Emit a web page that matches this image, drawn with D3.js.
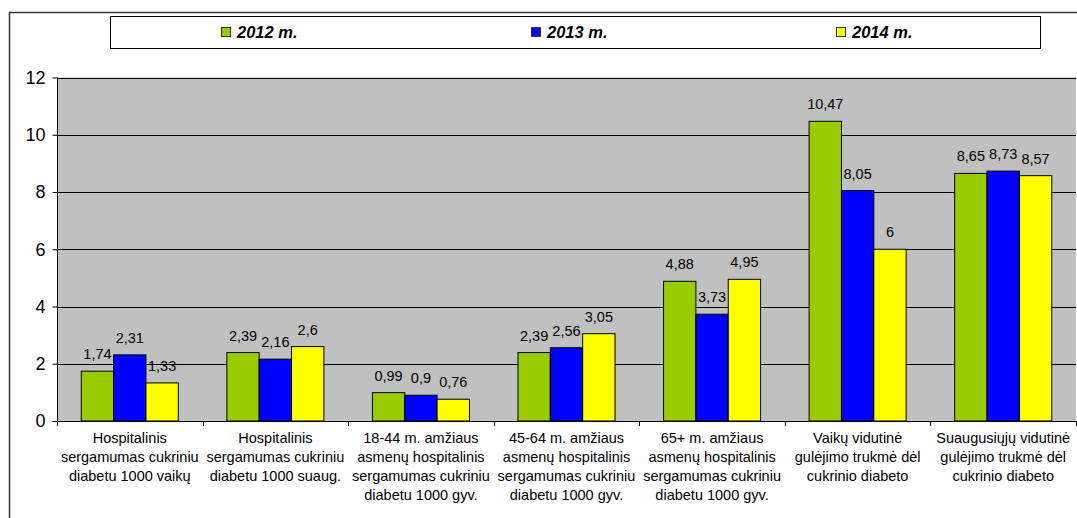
<!DOCTYPE html>
<html>
<head>
<meta charset="utf-8">
<script src="https://cdn.jsdelivr.net/npm/d3@7"></script>
<style>
  html, body { margin: 0; padding: 0; background: #fff; }
  svg { display: block; font-family: "Liberation Sans", Arial, sans-serif; }
</style>
</head>
<body>
<svg id="chart" width="1077" height="518"></svg>
<script>
// Category labels, one array of lines per group
const categories = [
  ["Hospitalinis", "sergamumas cukriniu", "diabetu 1000 vaikų"],
  ["Hospitalinis", "sergamumas cukriniu", "diabetu 1000 suaug."],
  ["18-44 m. amžiaus", "asmenų hospitalinis", "sergamumas cukriniu", "diabetu 1000 gyv."],
  ["45-64 m. amžiaus", "asmenų hospitalinis", "sergamumas cukriniu", "diabetu 1000 gyv."],
  ["65+ m. amžiaus", "asmenų hospitalinis", "sergamumas cukriniu", "diabetu 1000 gyv."],
  ["Vaikų vidutinė", "gulėjimo trukmė dėl", "cukrinio diabeto"],
  ["Suaugusiųjų vidutinė", "gulėjimo trukmė dėl", "cukrinio diabeto"]
];
const seriesNames = ["2012 m.", "2013 m.", "2014 m."];
const values2012 = [1.74, 2.39, 0.99, 2.39, 4.88, 10.47, 8.65];
const values2013 = [2.31, 2.16, 0.90, 2.56, 3.73, 8.05, 8.73];
const values2014 = [1.33, 2.60, 0.76, 3.05, 4.95, 6.00, 8.57];
const yTicks = [0, 2, 4, 6, 8, 10, 12];
const seriesColors = ["#99CC00", "#0000FF", "#FFFF00"];

const series = [values2012, values2013, values2014];

const svg = d3.select("#chart");
const plot = { left: 57, right: 1076, top: 77.5, bottom: 421 };

// Outer frame (top and left edges)
svg.append("path")
  .attr("d", `M9.5,518 V12.5 H1077`)
  .attr("fill", "none")
  .attr("stroke", "#333")
  .attr("stroke-width", 1.5);

// Legend
const legend = svg.append("g");
legend.append("rect")
  .attr("x", 110.5).attr("y", 16.5)
  .attr("width", 930).attr("height", 32)
  .attr("fill", "#fff")
  .attr("stroke", "#000");
const legendX = [221, 531, 836];
seriesNames.forEach((name, i) => {
  legend.append("rect")
    .attr("x", legendX[i] + 0.5).attr("y", 27.5)
    .attr("width", 9).attr("height", 9)
    .attr("fill", seriesColors[i])
    .attr("stroke", "#333");
  legend.append("text")
    .attr("x", legendX[i] + 16).attr("y", 38)
    .attr("font-size", 16.5).attr("font-weight", "bold").attr("font-style", "italic")
    .attr("fill", "#000")
    .text(name);
});

// Scales
const x = d3.scaleBand()
  .domain(d3.range(categories.length))
  .range([plot.left, plot.right])
  .paddingInner(0).paddingOuter(0);
const cw = x.bandwidth();
const gap = cw * 0.75 / 4.5;
const xs = d3.scaleBand()
  .domain(d3.range(series.length))
  .range([gap, cw - gap])
  .padding(0);
const y = d3.scaleLinear().domain([0, 12]).range([plot.bottom, plot.top]);

// Plot background
svg.append("rect")
  .attr("x", plot.left).attr("y", plot.top)
  .attr("width", plot.right - plot.left).attr("height", plot.bottom - plot.top)
  .attr("fill", "#C0C0C0");

// Gridlines
svg.append("g")
  .selectAll("line")
  .data(yTicks.filter(t => t > 0))
  .join("line")
  .attr("x1", plot.left).attr("x2", plot.right)
  .attr("y1", d => Math.round(y(d)) + 0.5).attr("y2", d => Math.round(y(d)) + 0.5)
  .attr("stroke", "#000").attr("stroke-width", 1);

// Bars
const groups = svg.append("g")
  .selectAll("g")
  .data(categories.map((c, i) => i))
  .join("g")
  .attr("transform", i => `translate(${x(i)},0)`);

groups.selectAll("rect")
  .data(i => series.map((s, k) => ({ k, v: s[i] })))
  .join("rect")
  .attr("x", d => xs(d.k))
  .attr("width", xs.bandwidth())
  .attr("y", d => y(d.v))
  .attr("height", d => y(0) - y(d.v))
  .attr("fill", d => seriesColors[d.k])
  .attr("stroke", "#000")
  .attr("stroke-width", 1);

// Value labels
const fmt = v => String(+v.toFixed(2)).replace(".", ",");
groups.selectAll("text")
  .data(i => series.map((s, k) => ({ k, v: s[i] })))
  .join("text")
  .attr("x", d => xs(d.k) + xs.bandwidth() / 2)
  .attr("y", d => y(d.v) - 12)
  .attr("text-anchor", "middle")
  .attr("font-size", 14.5)
  .attr("fill", "#000")
  .text(d => fmt(d.v));

// Y axis
const yAxis = svg.append("g")
  .attr("transform", `translate(${plot.left + 0.5},0)`)
  .call(d3.axisLeft(y).tickValues(yTicks).tickSize(5).tickPadding(7).tickFormat(d3.format("d")));
yAxis.select(".domain").attr("stroke", "#000").attr("d", `M-5,${plot.bottom + 0.5}H0V${plot.top}`);
yAxis.selectAll("line").attr("stroke", "#000");
yAxis.selectAll("text").attr("font-size", 18).attr("fill", "#000")
  .attr("font-family", "Liberation Sans, Arial, sans-serif");

// X axis baseline and category tick marks
const xAxis = svg.append("g");
xAxis.append("line")
  .attr("x1", plot.left).attr("x2", plot.right)
  .attr("y1", plot.bottom + 0.5).attr("y2", plot.bottom + 0.5)
  .attr("stroke", "#000");
xAxis.selectAll("line.tick")
  .data(d3.range(categories.length + 1))
  .join("line")
  .attr("class", "tick")
  .attr("x1", i => Math.round(plot.left + i * cw) + 0.5)
  .attr("x2", i => Math.round(plot.left + i * cw) + 0.5)
  .attr("y1", plot.bottom).attr("y2", plot.bottom + 5)
  .attr("stroke", "#000");

// Category labels
const catLabels = svg.append("g")
  .selectAll("text")
  .data(categories)
  .join("text")
  .attr("text-anchor", "middle")
  .attr("font-size", 14.5)
  .attr("fill", "#000")
  .attr("transform", (c, i) => `translate(${x(i) + cw / 2},443)`);
catLabels.selectAll("tspan")
  .data(c => c)
  .join("tspan")
  .attr("x", 0)
  .attr("y", (d, j) => j * 19)
  .text(d => d);
</script>
</body>
</html>
